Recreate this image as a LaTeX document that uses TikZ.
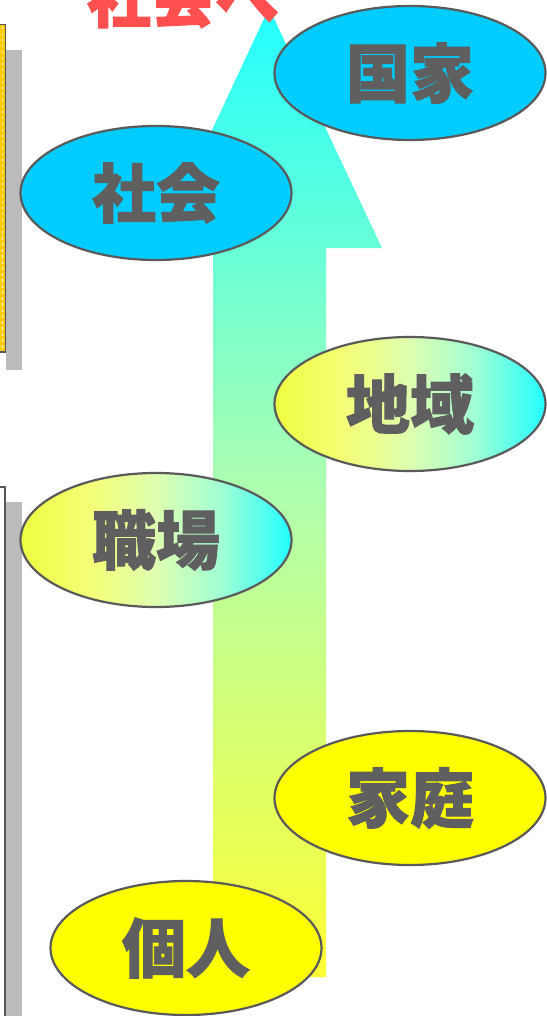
\documentclass[tikz,border=0pt]{standalone}
\usepackage{fontspec}
\newfontfamily\cjk{Noto Sans CJK JP Black}[FakeBold=1.5]
\usetikzlibrary{shapes.geometric}
\definecolor{txtgray}{HTML}{5F5F5F}
\definecolor{edgegray}{HTML}{5A5A5A}
\definecolor{skyblue}{HTML}{00CCFF}
\definecolor{ayellow}{HTML}{FFFF33}
\definecolor{acyan}{HTML}{22FFFF}
\definecolor{gyellow}{HTML}{EEFF40}
\definecolor{gy2}{HTML}{F4FF78}
\definecolor{gmid}{HTML}{DEFFB0}
\definecolor{gc2}{HTML}{A0FFD4}
\definecolor{gcyan}{HTML}{22FFFF}
\definecolor{titlered}{HTML}{FF5050}
\definecolor{shadow}{HTML}{BBBBBB}
\definecolor{gold}{HTML}{FFCC00}
\definecolor{boxline}{HTML}{555555}
\definecolor{pureyellow}{HTML}{FFFF00}
\pgfdeclarehorizontalshading{ovalgrad}{100bp}{color(0bp)=(gyellow); color(25bp)=(gyellow); color(38bp)=(gy2); color(50bp)=(gmid); color(62bp)=(gc2); color(75bp)=(gcyan); color(100bp)=(gcyan)}
\tikzset{
  oval/.style={ellipse, draw=edgegray, line width=2.2pt, minimum width=271pt, minimum height=134pt, inner sep=0pt,
    font=\cjk\fontsize{64}{64}\selectfont, text=txtgray},
  blueoval/.style={oval, fill=skyblue},
  yellowoval/.style={oval, fill=pureyellow},
  gradoval/.style={oval, shading=ovalgrad, shading angle=0},
}
\begin{document}
\begin{tikzpicture}[x=1pt,y=-1pt]
\useasboundingbox (0,0) rectangle (546,1016);
% arrow
\shade[top color=acyan, bottom color=ayellow, middle color={rgb,255:red,175;green,255;blue,175}]
  (269,8) -- (382,248) -- (326,248) -- (326,977) -- (213,977) -- (213,248) -- (157,248) -- cycle;
% left boxes
\fill[shadow] (6,50) rectangle (22,370);
\filldraw[fill=white, draw=boxline, line width=1.5pt] (-10,25) rectangle (5,352);
\draw[gold, line width=5pt] (-10,27.5) -- (2.5,27.5) -- (2.5,348) -- (-10,348);
\draw[white, line width=1.6pt, dash pattern=on 2.5pt off 3.5pt] (-10,27.5) -- (2.5,27.5) -- (2.5,348) -- (-10,348);
\fill[shadow] (6,502) rectangle (22,1030);
\filldraw[fill=white, draw=boxline, line width=1.5pt] (-10,487) rectangle (5,1030);
% ellipses
\node[blueoval] (kokka) at (410,73) {国家};
\node[blueoval] (shakai) at (156,193) {社会};
\node[gradoval] (chiiki) at (410,404) {地域};
\node[gradoval] (shokuba) at (156,540) {職場};
\node[yellowoval] (katei) at (410,798) {家庭};
\node[yellowoval] (kojin) at (186,948) {個人};
% title
\node[anchor=base, text=titlered, font=\cjk\fontsize{64}{64}\selectfont, inner sep=0pt] (title) at (183,22) {社会へ};
\end{tikzpicture}
\end{document}
